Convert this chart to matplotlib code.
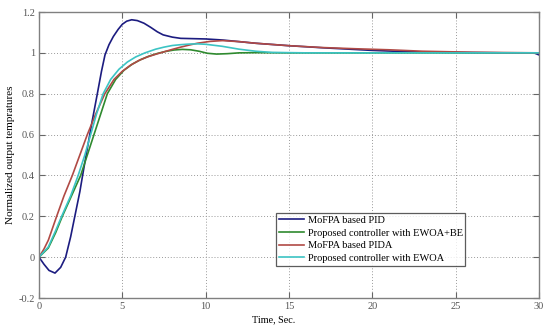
import matplotlib
matplotlib.use("Agg")
import matplotlib.pyplot as plt

plt.rcParams['font.family'] = ['Liberation Serif', 'DejaVu Serif']

# MoFPA based PID
t_pid = [0, 0.3, 0.6, 0.96, 1.3, 1.6, 1.9, 2.15, 2.45, 2.7, 2.96, 3.2, 3.5, 3.75, 3.96, 4.2,
         4.46, 4.75, 5.0, 5.26, 5.56, 5.9, 6.3, 6.7, 7.1, 7.45, 8.0, 8.5, 9.0, 10.0, 11.0,
         12.0, 13.0, 15.0, 17.0, 20.0, 22.0, 25.0, 28.0, 29.7, 30.0]
v_pid = [0, -0.035, -0.065, -0.078, -0.05, 0.0, 0.1, 0.2, 0.32, 0.44, 0.56, 0.67, 0.8, 0.91, 0.99, 1.04,
         1.08, 1.115, 1.14, 1.155, 1.162, 1.158, 1.145, 1.125, 1.103, 1.088, 1.077, 1.071, 1.07, 1.068, 1.063,
         1.055, 1.047, 1.035, 1.025, 1.012, 1.006, 1.002, 1.0, 1.0, 0.99]

# Proposed controller with EWOA+BE
t_be = [0, 0.56, 1.0, 1.4, 1.95, 2.5, 2.9, 3.3, 3.7, 4.1, 4.6, 5.1, 5.6, 6.1, 6.6, 7.1,
        7.6, 8.1, 8.6, 9.1, 9.6, 10.1, 10.66, 11.3, 12.0, 13.0, 15.0, 20.0, 25.0, 30.0]
v_be = [0, 0.045, 0.12, 0.2, 0.3, 0.4, 0.5, 0.6, 0.7, 0.8, 0.87, 0.915, 0.945, 0.967, 0.984, 0.997,
        1.007, 1.014, 1.017, 1.015, 1.008, 0.998, 0.994, 0.996, 1.0, 1.001, 1.0, 1.0, 1.0, 1.0]

# MoFPA based PIDA
t_pida = [0, 0.3, 0.56, 1.06, 1.5, 2.0, 2.45, 2.9, 3.4, 3.95, 4.5, 5.0, 5.5, 6.0, 6.5, 7.0,
          7.5, 8.0, 8.5, 9.0, 9.5, 10.26, 11.0, 12.0, 13.0, 15.0, 17.0, 19.0, 21.0, 23.0, 26.0, 30.0]
v_pida = [0, 0.04, 0.083, 0.2, 0.3, 0.4, 0.5, 0.6, 0.7, 0.8, 0.87, 0.91, 0.94, 0.963, 0.98, 0.993,
          1.005, 1.017, 1.028, 1.038, 1.047, 1.056, 1.06, 1.055, 1.047, 1.035, 1.026, 1.02, 1.015, 1.008, 1.003, 1.0]

# Proposed controller with EWOA
t_ewoa = [0, 0.56, 1.0, 1.36, 1.9, 2.35, 2.75, 3.1, 3.45, 3.85, 4.3, 4.8, 5.3, 5.8, 6.36,
          7.0, 7.5, 8.0, 8.5, 9.0, 9.5, 10.0, 11.0, 12.0, 13.0, 14.0, 16.0, 20.0, 25.0, 30.0]
v_ewoa = [0, 0.05, 0.13, 0.2, 0.3, 0.4, 0.5, 0.6, 0.7, 0.8, 0.87, 0.92, 0.955, 0.98, 1.0,
          1.018, 1.028, 1.036, 1.04, 1.043, 1.044, 1.042, 1.032, 1.018, 1.008, 1.002, 1.0, 1.0, 1.0, 1.0]

labels = ["MoFPA based PID", "Proposed controller with EWOA+BE",
          "MoFPA based PIDA", "Proposed controller with EWOA"]
colors = ["#1c1c80", "#2f8a2f", "#b04a45", "#3cc4c4"]

x_ticks = [0, 5, 10, 15, 20, 25, 30]
y_ticks = [-0.2, 0, 0.2, 0.4, 0.6, 0.8, 1, 1.2]
y_tick_labels = ["-0.2", "0", "0.2", "0.4", "0.6", "0.8", "1", "1.2"]

fig = plt.figure(figsize=(5.5, 3.29), dpi=100)
ax = fig.add_axes([39/550, 1-298/329, 500/550, 286/329])

series = [(t_pid, v_pid), (t_be, v_be), (t_pida, v_pida), (t_ewoa, v_ewoa)]
for (t, v), lab, c in zip(series, labels, colors):
    ax.plot(t, v, color=c, lw=1.2, label=lab, solid_joinstyle="round")

ax.set_xlim(0, 30)
ax.set_ylim(-0.2, 1.2)
ax.set_xticks(x_ticks)
ax.set_yticks(y_ticks)
ax.set_yticklabels(y_tick_labels)
ax.grid(True, linestyle=(0, (1, 2)), color="#9a9a9a", linewidth=0.7)
ax.tick_params(direction="in", top=True, right=True, length=4, width=0.8,
               colors="#666666", labelsize=7.5, labelcolor="#555555", pad=3)
for s in ax.spines.values():
    s.set_color("#808080")
    s.set_linewidth(1.0)

ax.set_xlabel("Time, Sec.", fontsize=7.3)
ax.xaxis.set_label_coords((274-39)/500, -(315-298)/286)
ax.xaxis.label.set_va("top")
ax.set_ylabel("Normalized output tempratures", fontsize=8)
ax.yaxis.set_label_coords((15-39)/500, 0.5)

leg = ax.legend(loc="lower left", bbox_to_anchor=((276-39)/500, (298-266)/286, (465-276)/500, 56/286),
                mode="expand", fontsize=7.5, frameon=True, fancybox=False, handlelength=2.4,
                handletextpad=0.4, borderpad=0.3, labelspacing=0.32, borderaxespad=0)
leg.get_frame().set_edgecolor("#333333")
leg.get_frame().set_linewidth(0.9)

fig.savefig("out.png", dpi=100)
